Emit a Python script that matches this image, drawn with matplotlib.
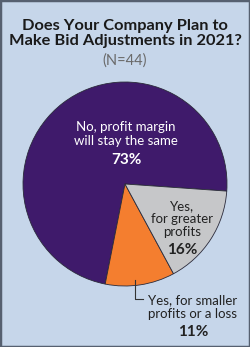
import matplotlib.pyplot as plt
from matplotlib.patches import Rectangle

categories = ["No, profit margin\nwill stay the same", "Yes, for smaller\nprofits or a loss", "Yes,\nfor greater\nprofits"]
values = [73, 11, 16]
colors = ["#3f1a6b", "#f47e2f", "#c6c7c9"]
title = "Does Your Company Plan to\nMake Bid Adjustments in 2021?"
subtitle = "(N=44)"

W, H = 250, 347
bg = "#c6d6ea"
fig = plt.figure(figsize=(W / 100, H / 100), dpi=100, facecolor=bg)
plt.rcParams['font.family'] = ['Lato', 'DejaVu Sans']

def fx(x):
    return x / W

def fy(y):
    return 1 - y / H

# pie axes
cx, cy, r = 125, 184, 102
ax = fig.add_axes([fx(cx - r), fy(cy + r), 2 * r / W, 2 * r / H])
ax.set_facecolor("none")
ax.pie(values, colors=colors, startangle=-4, counterclock=True, radius=1,
       wedgeprops=dict(edgecolor="#2a2a3a", linewidth=0.6))
ax.set_xlim(-1.0, 1.0)
ax.set_ylim(-1.0, 1.0)
ax.set_aspect("equal")
ax.axis("off")

# title
fig.text(fx(125), fy(45), title, ha="center", va="baseline", fontsize=11.8,
         fontweight="bold", color="#1a1a1a", linespacing=1.1)
fig.text(fx(125), fy(61), subtitle, ha="center", va="center", fontsize=10.5,
         color="#6a6a6a")

# labels
fig.text(fx(126), fy(134), categories[0], ha="center", va="center", fontsize=9.5,
         color="white", linespacing=1.2)
fig.text(fx(126), fy(160), f"{values[0]}%", ha="center", va="center", fontsize=11,
         color="white", fontweight="bold")

fig.text(fx(182), fy(219), categories[2], ha="center", va="center", fontsize=9.5,
         color="#222222", linespacing=1.1)
fig.text(fx(182), fy(250), f"{values[2]}%", ha="center", va="center", fontsize=11,
         color="#222222", fontweight="bold")

fig.text(fx(193), fy(307), categories[1], ha="center", va="center", fontsize=9.5,
         color="#222222", linespacing=1.15)
fig.text(fx(193), fy(332), f"{values[1]}%", ha="center", va="center", fontsize=11,
         color="#222222", fontweight="bold")

# leader line
fig.add_artist(plt.Line2D([fx(135), fx(135), fx(143)], [fy(280), fy(299), fy(299)],
                          color="#333333", linewidth=0.8))

# border
fig.add_artist(Rectangle((0, 0), 1, 1, transform=fig.transFigure, fill=False,
                         edgecolor="#566070", linewidth=2.5))

fig.savefig("out.png", dpi=100, facecolor=bg)
